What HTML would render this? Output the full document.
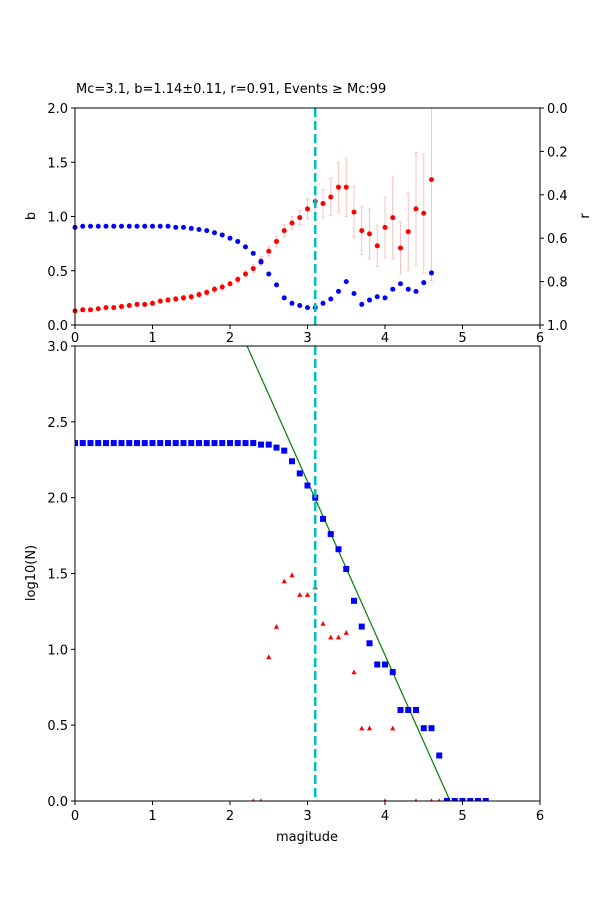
<!DOCTYPE html>
<html><head><meta charset="utf-8"><style>
body{margin:0;background:#fff}
text{font-family:"DejaVu Sans","Liberation Sans",sans-serif;font-size:13px;fill:#000}
</style></head><body>
<svg id="s" width="600" height="900" xmlns="http://www.w3.org/2000/svg">
<rect width="600" height="900" fill="#fff"/>
<g id="g"></g>
<text x="76" y="93" style="font-size:13px">Mc=3.1, b=1.14±0.11, r=0.91, Events ≥ Mc:99</text>
<text transform="translate(35,216) rotate(-90)" text-anchor="middle">b</text>
<text transform="translate(589,216) rotate(-90)" text-anchor="middle">r</text>
<text transform="translate(35,573) rotate(-90)" text-anchor="middle">log10(N)</text>
<text x="307" y="841" text-anchor="middle">magitude</text>
</svg>
<script>
var g=document.getElementById('g'),h='';
var X=function(m){return 75+m*77.5};
var YT=function(b){return 325-b*108.5};
var YB=function(v){return 801-v*151.67};
var bv=[0.13,0.14,0.14,0.15,0.16,0.16,0.17,0.18,0.19,0.19,0.20,0.22,0.23,0.24,0.25,0.26,0.28,0.30,0.33,0.35,0.38,0.42,0.47,0.52,0.59,0.68,0.77,0.87,0.94,0.99,1.07,1.14,1.12,1.18,1.27,1.27,1.04,0.87,0.84,0.73,0.90,0.99,0.71,0.86,1.07,1.03,1.34];
var rv=[0.90,0.91,0.91,0.91,0.91,0.91,0.91,0.91,0.91,0.91,0.91,0.91,0.91,0.90,0.90,0.89,0.88,0.87,0.85,0.83,0.80,0.77,0.72,0.66,0.58,0.47,0.37,0.25,0.20,0.18,0.16,0.16,0.20,0.24,0.31,0.40,0.29,0.19,0.23,0.26,0.25,0.33,0.38,0.33,0.31,0.39,0.48];
var late=[0.09,0.11,0.13,0.17,0.23,0.27,0.24,0.22,0.23,0.19,0.28,0.38,0.24,0.36,0.52,0.55,0.93];
for(var i=0;i<47;i++){var m=i/10;var e;
 if(i<20)e=0.01+i*0.001;else if(i<30)e=0.02+(i-20)*0.005;else e=late[i-30];
 var y1=Math.max(108,YT(bv[i]+e)),y2=YT(bv[i]-e);
 h+='<line x1="'+X(m)+'" x2="'+X(m)+'" y1="'+y1+'" y2="'+y2+'" stroke="#ffc0c0" stroke-width="1"/>';
 h+='<line x1="'+(X(m)-1.5)+'" x2="'+(X(m)+1.5)+'" y1="'+y1+'" y2="'+y1+'" stroke="#ffc0c0"/><line x1="'+(X(m)-1.5)+'" x2="'+(X(m)+1.5)+'" y1="'+y2+'" y2="'+y2+'" stroke="#ffc0c0"/>';}
for(var i=0;i<47;i++){var m=i/10;
 h+='<circle cx="'+X(m)+'" cy="'+YT(bv[i])+'" r="2.5" fill="#f00"/>';
 h+='<circle cx="'+X(m)+'" cy="'+YT(rv[i])+'" r="2.5" fill="#00f"/>';}
var sq=[];for(var i=0;i<=23;i++)sq.push(2.36);
sq=sq.concat([2.35,2.35,2.33,2.31,2.24,2.16,2.08,2.00,1.86,1.76,1.66,1.53,1.32,1.15,1.04,0.90,0.90,0.85,0.60,0.60,0.60,0.48,0.48,0.30,0,0,0,0,0,0]);
h+='<clipPath id="cb"><rect x="75" y="346" width="465" height="455"/></clipPath>';
h+='<line x1="'+X(2.22)+'" y1="'+YB(3)+'" x2="'+X(4.84)+'" y2="'+YB(0)+'" stroke="#008000" stroke-width="1.2"/>';
h+='<g clip-path="url(#cb)">';
for(var i=0;i<sq.length;i++){var x=X(i/10),y=YB(sq[i]);h+='<rect x="'+(x-3)+'" y="'+(y-3)+'" width="6" height="6" fill="#00f"/>';}
var tr=[[2.3,0],[2.4,0],[2.5,0.95],[2.6,1.15],[2.7,1.45],[2.8,1.49],[2.9,1.36],[3.0,1.36],[3.1,1.41],[3.2,1.17],[3.3,1.08],[3.4,1.08],[3.5,1.11],[3.6,0.85],[3.7,0.48],[3.8,0.48],[4.0,0],[4.1,0.48],[4.4,0],[4.6,0],[4.7,0]];
tr.forEach(function(t){var x=X(t[0]),y=YB(t[1]);h+='<polygon points="'+(x-2.6)+','+(y+2.2)+' '+(x+2.6)+','+(y+2.2)+' '+x+','+(y-2.6)+'" fill="#f00"/>';});
h+='</g>';
h+='<line x1="'+X(3.1)+'" x2="'+X(3.1)+'" y1="108" y2="325" stroke="#00bfbf" stroke-width="2.5" stroke-dasharray="9,4"/>';
h+='<line x1="'+X(3.1)+'" x2="'+X(3.1)+'" y1="346" y2="801" stroke="#00bfbf" stroke-width="2.5" stroke-dasharray="9,4"/>';
h+='<rect x="75" y="108" width="465" height="217" fill="none" stroke="#000"/>';
h+='<rect x="75" y="346" width="465" height="455" fill="none" stroke="#000"/>';
for(var k=0;k<=6;k++){var x=X(k);
 h+='<line x1="'+x+'" x2="'+x+'" y1="325" y2="329" stroke="#000"/><text x="'+x+'" y="342" text-anchor="middle">'+k+'</text>';
 h+='<line x1="'+x+'" x2="'+x+'" y1="801" y2="805" stroke="#000"/><text x="'+x+'" y="820" text-anchor="middle">'+k+'</text>';}
for(var k=0;k<=4;k++){var v=k*0.5,y=YT(v);
 h+='<line x1="71" x2="75" y1="'+y+'" y2="'+y+'" stroke="#000"/><text x="68" y="'+(y+5)+'" text-anchor="end">'+v.toFixed(1)+'</text>';}
for(var k=0;k<=5;k++){var r=k*0.2,y=108+r*217;
 h+='<line x1="540" x2="544" y1="'+y+'" y2="'+y+'" stroke="#000"/><text x="547" y="'+(y+5)+'">'+r.toFixed(1)+'</text>';}
for(var k=0;k<=6;k++){var v=k*0.5,y=YB(v);
 h+='<line x1="71" x2="75" y1="'+y+'" y2="'+y+'" stroke="#000"/><text x="68" y="'+(y+5)+'" text-anchor="end">'+v.toFixed(1)+'</text>';}
g.innerHTML=h;
</script>
</body></html>
